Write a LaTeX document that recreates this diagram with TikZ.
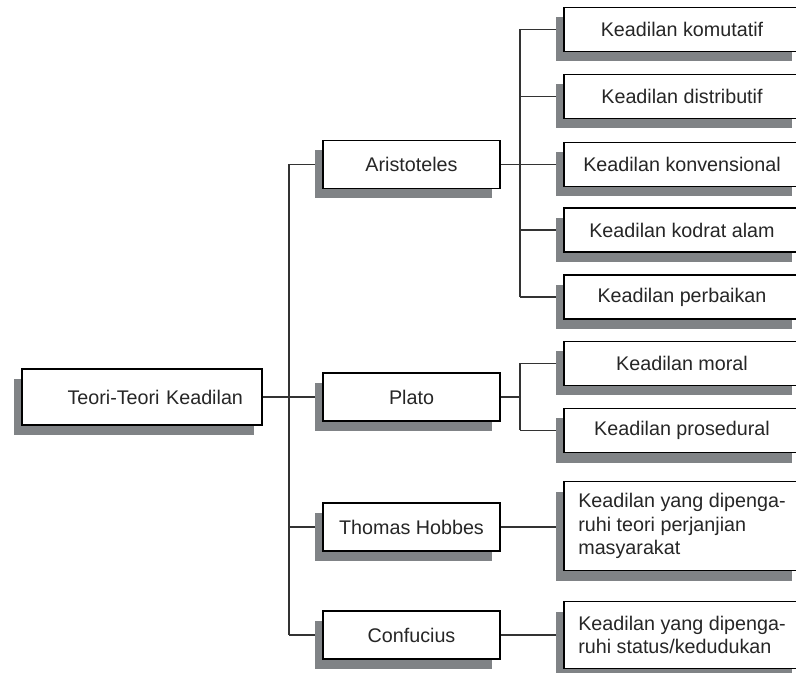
\documentclass[tikz,border=0pt]{standalone}
\usepackage{fontspec}
\setmainfont{Liberation Sans}
\usepackage{tikz}
\usetikzlibrary{positioning, shadows, backgrounds}
\definecolor{shadowgray}{RGB}{128,131,134}

\begin{document}
\begin{tikzpicture}[
    x=0.75pt, y=-0.75pt,
    font=\fontsize{14.8}{17.5}\selectfont,
    basebox/.style={rectangle, draw=black, line width=1pt, fill=white, inner sep=0pt,
                    text=black!85,
                    drop shadow={shadow xshift=-6pt, shadow yshift=-7.5pt,
                                 fill=shadowgray, opacity=1}},
    rootbox/.style={basebox, minimum width=180pt, minimum height=42pt,
                    text width=151.5pt, align=right},
    namebox/.style={basebox, minimum width=132.75pt, minimum height=36pt},
    kindbox/.style={basebox, minimum width=177pt, minimum height=33pt},
    longbox/.style={basebox, minimum width=177pt, align=left},
    link/.style={draw=black!80, line width=0.8pt}
]
    \useasboundingbox (0,0) rectangle (796,673);
    \begin{scope}
    \clip (0,0) rectangle (796,673);

    % Root
    \node[rootbox] (root) at (142, 397) {Teori-Teori Keadilan};

    % Philosophers
    \node[namebox] (ari) at (411.5, 164.5) {Aristoteles};
    \node[namebox] (pla) at (411.5, 397) {Plato};
    \node[namebox] (hob) at (411.5, 527) {Thomas Hobbes};
    \node[namebox] (con) at (411.5, 635) {Confucius};

    % Kinds of justice
    \node[kindbox] (kom) at (682, 29.5) {Keadilan komutatif};
    \node[kindbox] (dis) at (682, 96.5) {Keadilan distributif};
    \node[kindbox] (kon) at (682, 164.5) {Keadilan konvensional};
    \node[kindbox] (kod) at (682, 230) {Keadilan kodrat alam};
    \node[kindbox] (per) at (682, 297) {Keadilan perbaikan};
    \node[kindbox] (mor) at (682, 363.5) {Keadilan moral};
    \node[kindbox] (pro) at (682, 430.5) {Keadilan prosedural};
    \node[longbox, minimum height=66.75pt] (hobk) at (682, 526)
        {Keadilan yang dipenga-\\ruhi teori perjanjian\\masyarakat};
    \node[longbox, minimum height=50.25pt] (conk) at (682, 635)
        {Keadilan yang dipenga-\\ruhi status/kedudukan};

    \coordinate (jmain) at (289, 397);
    \coordinate (jari) at (520, 164.5);
    \coordinate (jpla) at (520, 397);

    \begin{scope}[on background layer]
        % Root to philosophers
        \draw[link] (root.east) -- (jmain);
        \draw[link] (jmain |- ari) -- (jmain |- con);
        \draw[link] (jmain |- ari) -- (ari.west);
        \draw[link] (jmain) -- (pla.west);
        \draw[link] (jmain |- hob) -- (hob.west);
        \draw[link] (jmain |- con) -- (con.west);

        % Aristoteles
        \draw[link] (ari.east) -- (kon.west);
        \draw[link] (jari |- kom) -- (jari |- per);
        \draw[link] (jari |- kom) -- (kom.west);
        \draw[link] (jari |- dis) -- (dis.west);
        \draw[link] (jari |- kod) -- (kod.west);
        \draw[link] (jari |- per) -- (per.west);

        % Plato
        \draw[link] (pla.east) -- (jpla);
        \draw[link] (jpla |- mor) -- (jpla |- pro);
        \draw[link] (jpla |- mor) -- (mor.west);
        \draw[link] (jpla |- pro) -- (pro.west);

        % Hobbes and Confucius
        \draw[link] (hob.east) -- (hob.east -| hobk.west);
        \draw[link] (con.east) -- (conk.west);
    \end{scope}
    \end{scope}
\end{tikzpicture}
\end{document}
